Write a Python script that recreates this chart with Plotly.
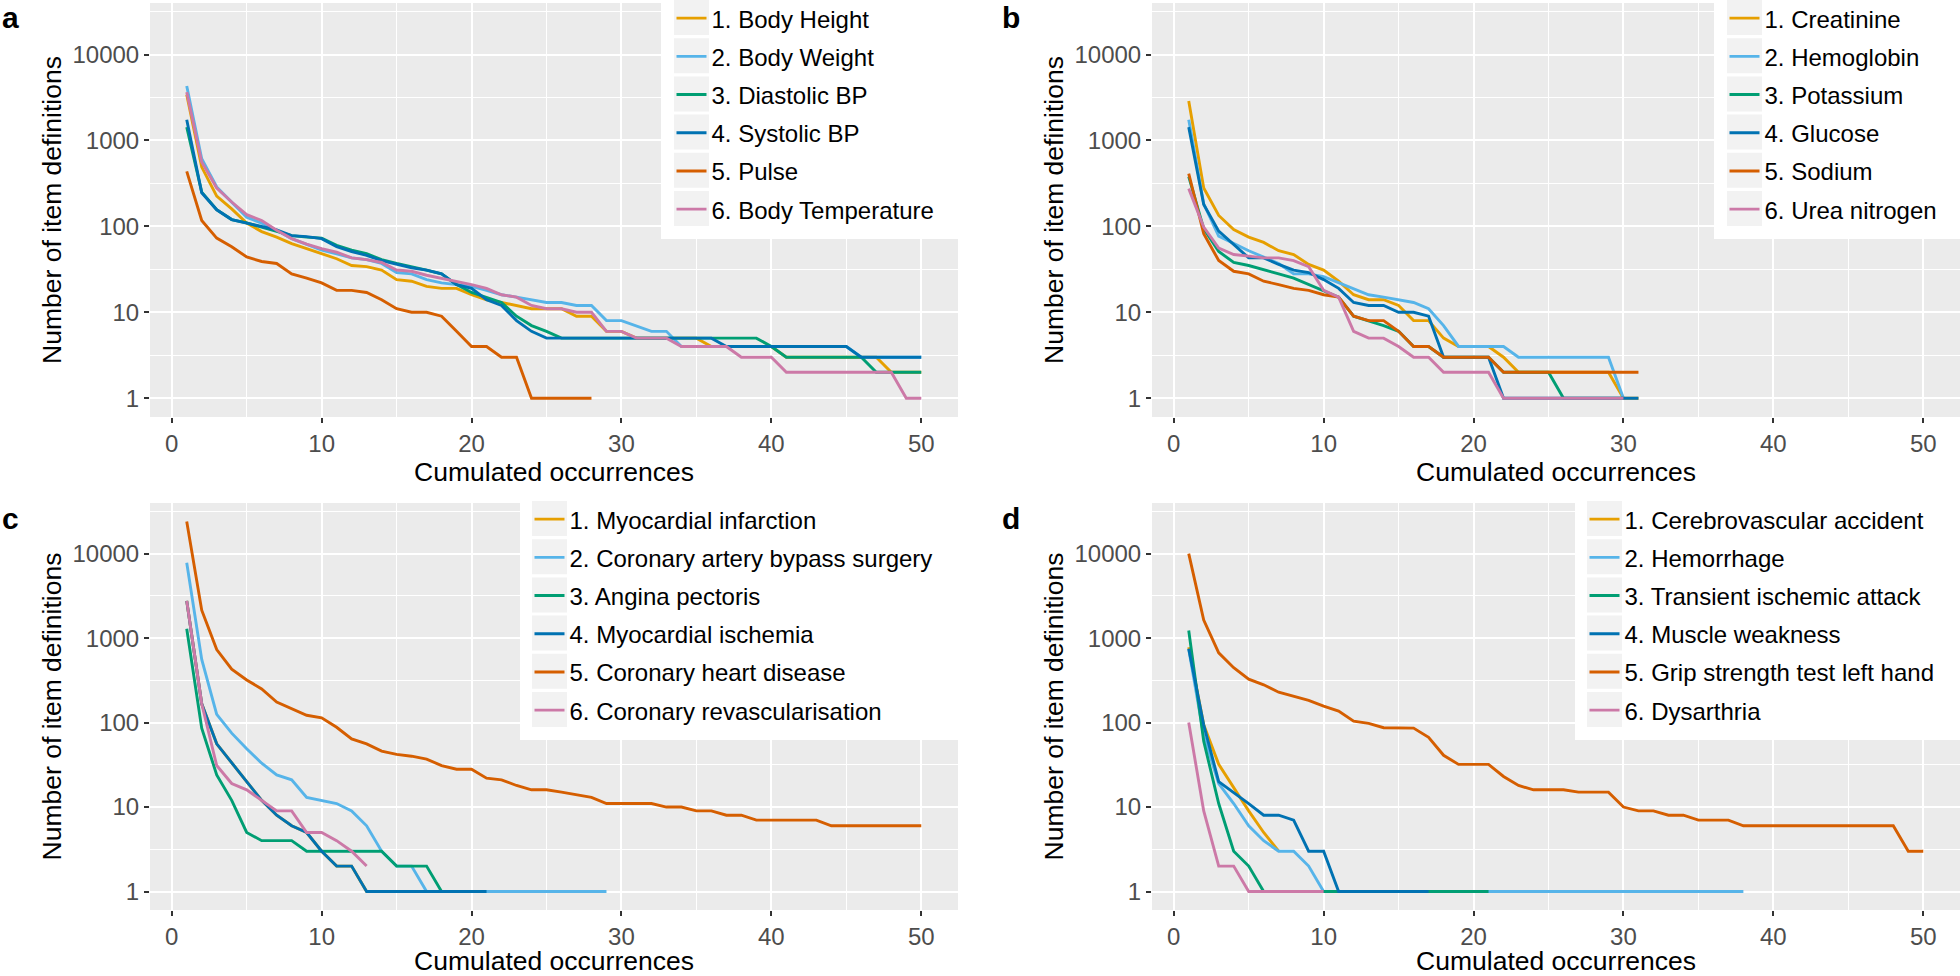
import plotly.graph_objects as go

W, H = 1960, 976
FONT = "Liberation Sans"
COLORS = ["#E69F00", "#56B4E9", "#009E73", "#0072B2", "#D55E00", "#CC79A7"]

X_TICKS = [0, 10, 20, 30, 40, 50]
X_MINOR = [5, 15, 25, 35, 45]
Y_TICKS = [1, 10, 100, 1000, 10000]
Y_TICKTEXT = ["1", "10", "100", "1000", "10000"]
Y_MINOR = [10 ** 0.5, 10 ** 1.5, 10 ** 2.5, 10 ** 3.5, 10 ** 4.5]
X_TITLE = "Cumulated occurrences"
Y_TITLE = "Number of item definitions"

# ---------------- panel a: vital signs ----------------
a_names = ["1. Body Height", "2. Body Weight", "3. Diastolic BP",
           "4. Systolic BP", "5. Pulse", "6. Body Temperature"]
a_body_height = [3400, 490, 225, 160, 109, 87, 75, 63, 55, 48, 42, 35, 34, 31, 24, 23, 20, 19, 19, 16,
                 14, 13, 12, 11, 11, 11, 9, 9, 6, 6, 5, 5, 5, 5, 5, 4, 4, 4, 4, 4,
                 3, 3, 3, 3, 3, 3, 3, 2, 2, 2]
a_body_weight = [4300, 612, 287, 192, 128, 109, 90, 72, 62, 53, 48, 43, 41, 37, 29, 28, 24, 22, 21, 20,
                 18, 16, 15, 14, 13, 13, 12, 12, 8, 8, 7, 6, 6, 4, 4, 4, 4, 4, 4, 4,
                 4, 4, 4, 4, 4, 3, 3, 3, 3, 3]
a_diastolic = [1430, 250, 156, 120, 110, 98, 87, 78, 75, 73, 60, 53, 48, 41, 37, 34, 31, 28, 21, 17,
               15, 13, 9, 7, 6, 5, 5, 5, 5, 5, 5, 5, 5, 5, 5, 5, 5, 5, 5, 4,
               3, 3, 3, 3, 3, 3, 2, 2, 2, 2]
a_systolic = [1740, 246, 156, 120, 109, 100, 91, 78, 76, 72, 58, 51, 46, 40, 36, 33, 31, 28, 21, 19,
              14, 12, 8, 6, 5, 5, 5, 5, 5, 5, 5, 5, 5, 5, 5, 5, 4, 4, 4, 4,
              4, 4, 4, 4, 4, 3, 3, 3, 3, 3]
a_pulse = [436, 117, 73, 58, 44, 39, 37, 28, 25, 22, 18, 18, 17, 14, 11, 10, 10, 9, 6, 4,
           4, 3, 3, 1, 1, 1, 1, 1]
a_body_temp = [3650, 560, 279, 192, 137, 117, 90, 72, 62, 55, 50, 43, 41, 38, 31, 30, 27, 25, 23, 21,
               19, 16, 15, 12, 11, 11, 10, 10, 6, 6, 5, 5, 5, 4, 4, 4, 4, 3, 3, 3,
               2, 2, 2, 2, 2, 2, 2, 2, 1, 1]

# ---------------- panel b: lab values ----------------
b_names = ["1. Creatinine", "2. Hemoglobin", "3. Potassium",
           "4. Glucose", "5. Sodium", "6. Urea nitrogen"]
b_creatinine = [2870, 280, 134, 92, 75, 65, 52, 47, 36, 31, 23, 16, 14, 14, 12, 8, 8, 5, 4, 4,
                4, 3, 2, 2, 2, 2, 2, 2, 2, 1, 1]
b_hemoglobin = [1740, 183, 77, 63, 52, 44, 37, 28, 28, 26, 22, 19, 16, 15, 14, 13, 11, 7, 4, 4,
                4, 4, 3, 3, 3, 3, 3, 3, 3, 1]
b_potassium = [380, 94, 51, 38, 35, 31, 28, 25, 21, 18, 15, 9, 8, 7, 6, 4, 4, 3, 3, 3,
               3, 2, 2, 2, 2, 1, 1, 1, 1, 1]
b_glucose = [1430, 180, 88, 62, 43, 43, 36, 31, 29, 24, 19, 13, 12, 12, 10, 10, 9, 3, 3, 3,
             3, 1, 1, 1, 1, 1, 1, 1, 1, 1, 1]
b_sodium = [410, 82, 40, 30, 28, 23, 21, 19, 18, 16, 15, 9, 8, 8, 6, 4, 4, 3, 3, 3,
            3, 2, 2, 2, 2, 2, 2, 2, 2, 2, 2]
b_urea = [275, 98, 56, 47, 45, 43, 43, 40, 34, 18, 15, 6, 5, 5, 4, 3, 3, 2, 2, 2,
          2, 1, 1, 1, 1, 1, 1, 1, 1, 1]

# ---------------- panel c: cardiac conditions ----------------
c_names = ["1. Myocardial infarction", "2. Coronary artery bypass surgery", "3. Angina pectoris",
           "4. Myocardial ischemia", "5. Coronary heart disease", "6. Coronary revascularisation"]
c_mi = [2760, 167, 56, 33, 20, 12, 8, 6, 5, 3, 2, 2, 1, 1, 1, 1, 1, 1, 1, 1, 1]
c_cabg = [7800, 560, 125, 75, 49, 33, 24, 21, 13, 12, 11, 9, 6, 3, 2, 2, 1, 1, 1, 1,
          1, 1, 1, 1, 1, 1, 1, 1, 1]
c_angina = [1290, 86, 24, 12, 5, 4, 4, 4, 3, 3, 3, 3, 3, 3, 2, 2, 2, 1, 1, 1]
c_ischemia = [2760, 167, 56, 33, 20, 12, 8, 6, 5, 3, 2, 2, 1, 1, 1, 1, 1, 1, 1, 1, 1]
c_chd = [24000, 2140, 733, 430, 320, 250, 175, 146, 122, 114, 88, 64, 56, 46, 42, 40, 37, 31, 28, 28,
         22, 21, 18, 16, 16, 15, 14, 13, 11, 11, 11, 11, 10, 10, 9, 9, 8, 8, 7, 7,
         7, 7, 7, 6, 6, 6, 6, 6, 6, 6]
c_revasc = [2760, 167, 31, 19, 16, 12, 9, 9, 5, 5, 4, 3, 2]

# ---------------- panel d: neurological ----------------
d_names = ["1. Cerebrovascular accident", "2. Hemorrhage", "3. Transient ischemic attack",
           "4. Muscle weakness", "5. Grip strength test left hand", "6. Dysarthria"]
d_cva = [780, 94, 32, 17, 9, 5, 3]
d_hemorrhage = [740, 70, 19, 11, 6, 4, 3, 3, 2, 1, 1, 1, 1, 1, 1, 1, 1, 1, 1, 1,
                1, 1, 1, 1, 1, 1, 1, 1, 1, 1, 1, 1, 1, 1, 1, 1, 1, 1]
d_tia = [1230, 60, 11, 3, 2, 1, 1, 1, 1, 1, 1, 1, 1, 1, 1, 1, 1, 1, 1, 1, 1]
d_muscle = [750, 94, 20, 15, 11, 8, 8, 7, 3, 3, 1, 1, 1, 1, 1, 1, 1]
d_grip = [10000, 1640, 670, 447, 327, 280, 229, 203, 183, 157, 137, 104, 98, 87, 87, 86, 67, 41, 32, 32,
          32, 23, 18, 16, 16, 16, 15, 15, 15, 10, 9, 9, 8, 8, 7, 7, 7, 6, 6, 6,
          6, 6, 6, 6, 6, 6, 6, 6, 3, 3]
d_dysarthria = [100, 9, 2, 2, 1, 1, 1, 1, 1, 1]

# ---------------- layout geometry (pixels) ----------------
COL_X = [(150, 958), (1152, 1960)]
ROW_Y = [(3, 417), (503, 910)]
LEGEND_T = [3, 504]
LABEL_Y = [18, 518]

PANELS = [
    dict(label="a", names=a_names,
         series=[a_body_height, a_body_weight, a_diastolic, a_systolic, a_pulse, a_body_temp],
         col=0, row=0, box=(661, 958), key_left=674),
    dict(label="b", names=b_names,
         series=[b_creatinine, b_hemoglobin, b_potassium, b_glucose, b_sodium, b_urea],
         col=1, row=0, box=(1714, 1960), key_left=1727),
    dict(label="c", names=c_names,
         series=[c_mi, c_cabg, c_angina, c_ischemia, c_chd, c_revasc],
         col=0, row=1, box=(520, 958), key_left=532),
    dict(label="d", names=d_names,
         series=[d_cva, d_hemorrhage, d_tia, d_muscle, d_grip, d_dysarthria],
         col=1, row=1, box=(1575, 1960), key_left=1587),
]

LEGEND_FONT = 24
ITEM_H = LEGEND_FONT * 1.3 + 3
PITCH = 38.2
GAP = PITCH - ITEM_H


def fx(px):
    return px / W


def fy(py):
    return 1 - py / H


fig = go.Figure()
shapes = []
annotations = []
layout = {}

for k, p in enumerate(PANELS):
    suffix = "" if k == 0 else str(k + 1)
    leg = "legend" if k == 0 else "legend" + str(k + 1)
    for i, (name, vals) in enumerate(zip(p["names"], p["series"])):
        fig.add_trace(go.Scatter(
            x=list(range(1, len(vals) + 1)), y=vals, mode="lines", name=name,
            line=dict(color=COLORS[i], width=2.9),
            xaxis="x" + suffix, yaxis="y" + suffix,
            legend=leg, legendgroup=p["label"] + str(i),
            hoverinfo="x+y+name",
        ))

    x0, x1 = COL_X[p["col"]]
    y0, y1 = ROW_Y[p["row"]]
    layout["xaxis" + suffix] = dict(
        domain=[fx(x0), fx(x1)], anchor="y" + suffix,
        range=[-1.45, 52.45], tickvals=X_TICKS, ticktext=[str(v) for v in X_TICKS],
        ticks="outside", ticklen=5, tickwidth=2, tickcolor="#333333",
        tickfont=dict(size=24, color="#4D4D4D", family=FONT),
        showgrid=True, gridcolor="white", gridwidth=2.2,
        minor=dict(tickvals=X_MINOR, showgrid=True, gridcolor="white", gridwidth=1.1, ticks=""),
        zeroline=False, showline=False, fixedrange=True,
        title=dict(text=X_TITLE, font=dict(size=26.5, color="black", family=FONT), standoff=1),
    )
    layout["yaxis" + suffix] = dict(
        domain=[fy(y1), fy(y0)], anchor="x" + suffix, type="log",
        range=[-0.219, 4.6], tickvals=Y_TICKS, ticktext=Y_TICKTEXT,
        ticks="outside", ticklen=5, tickwidth=2, tickcolor="#333333",
        tickfont=dict(size=24, color="#4D4D4D", family=FONT),
        showgrid=True, gridcolor="white", gridwidth=2.2,
        minor=dict(tickvals=Y_MINOR, showgrid=True, gridcolor="white", gridwidth=1.1, ticks=""),
        zeroline=False, showline=False, fixedrange=True,
        title=dict(text=Y_TITLE, font=dict(size=26.5, color="black", family=FONT), standoff=3),
    )

    # legend (ggplot-like, inside the top-right corner)
    T = LEGEND_T[p["row"]]
    leg_top = T - 6.95
    first_center = leg_top + 21.45
    layout[leg] = dict(
        x=fx(p["key_left"] - 2.5), y=fy(leg_top), xanchor="left", yanchor="top",
        xref="paper", yref="paper",
        bgcolor="rgba(0,0,0,0)", borderwidth=0,
        font=dict(size=LEGEND_FONT, color="black", family=FONT),
        traceorder="grouped", tracegroupgap=GAP, itemclick=False, itemdoubleclick=False,
    )
    bx0, bx1 = p["box"]
    shapes.append(dict(type="rect", xref="paper", yref="paper", layer="above",
                       x0=fx(bx0), x1=fx(bx1), y0=fy(T + 236), y1=fy(max(0, T - 20)),
                       fillcolor="white", line=dict(width=0)))
    for i in range(6):
        cy = first_center + PITCH * i
        shapes.append(dict(type="rect", xref="paper", yref="paper", layer="above",
                           x0=fx(p["key_left"]), x1=fx(p["key_left"] + 35),
                           y0=fy(cy + 17.5), y1=fy(cy - 17.5),
                           fillcolor="#F2F2F2", line=dict(width=0)))

    lab_x = 0 if p["col"] == 0 else 1000
    annotations.append(dict(text=p["label"], xref="paper", yref="paper",
                            x=fx(lab_x), y=fy(LABEL_Y[p["row"]]), xanchor="left", yanchor="middle",
                            showarrow=False,
                            font=dict(size=30, color="black", family=FONT, weight="bold")))

fig.update_layout(
    width=W, height=H, autosize=False,
    margin=dict(l=0, r=0, t=0, b=0, pad=0, autoexpand=False),
    paper_bgcolor="white", plot_bgcolor="#EBEBEB",
    font=dict(family=FONT, color="black"),
    shapes=shapes, annotations=annotations,
    showlegend=True,
    **layout,
)

fig.write_html(
    "out.html",
    config={"displayModeBar": False},
    post_script="document.body.style.margin='0px';document.body.style.overflow='hidden';",
)
